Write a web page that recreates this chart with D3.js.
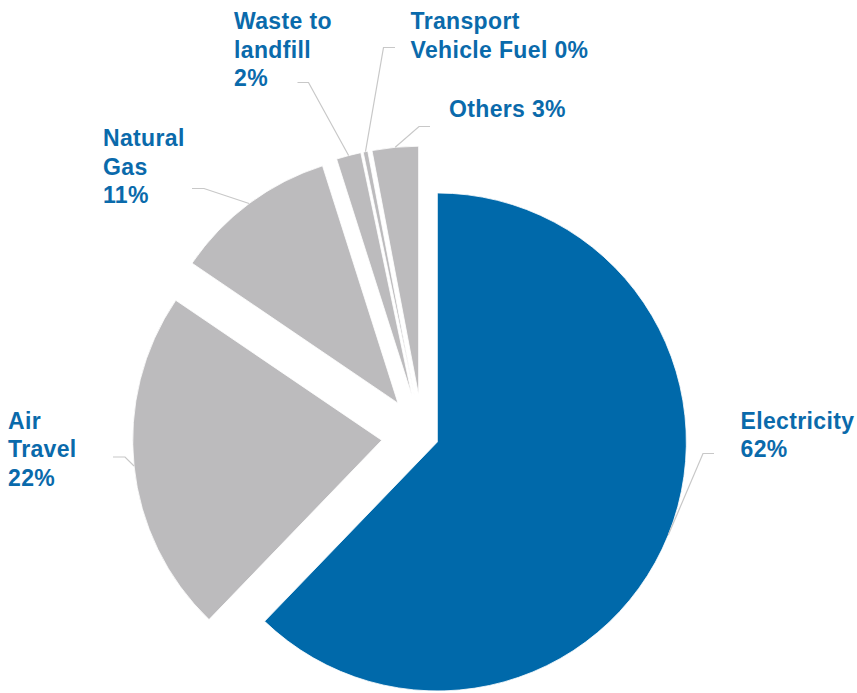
<!DOCTYPE html>
<html>
<head>
<meta charset="utf-8">
<script src="https://cdn.jsdelivr.net/npm/d3@7"></script>
<style>
  html, body { margin: 0; padding: 0; background: #fff; }
  svg { display: block; }
  .lbl { font-family: "Liberation Sans", Arial, Helvetica, sans-serif; font-weight: bold; font-size: 23px; letter-spacing: 0.35px; fill: #0a6aab; }
</style>
</head>
<body>
<svg id="chart" width="857" height="693"></svg>
<script>
// Emissions share by source (%)
const categories = ["Electricity", "Air Travel", "Natural Gas", "Waste to landfill", "Transport Vehicle Fuel", "Others"];
const shares = [62.2, 22.3, 10.6, 1.6, 0.3, 3.0];

// Label text lines per category; the rounded percentage is appended
// either as its own line or to the end of the last line.
const labelLines = [
  ["Electricity"],
  ["Air", "Travel"],
  ["Natural", "Gas"],
  ["Waste to", "landfill"],
  ["Transport", "Vehicle Fuel"],
  ["Others"]
];
const pctOnOwnLine = [true, true, true, true, false, false];

const W = 857, H = 693;
const center = [422.5, 436];
const radius = 249;
const explode = [16, 41, 41, 41, 41, 41];
const sliceColor = ["#0069aa", "#bcbbbd", "#bcbbbd", "#bcbbbd", "#bcbbbd", "#bcbbbd"];

// Label placement: text origin, elbow of the leader and end of its horizontal tail
const labelLayout = [
  { x: 740.5, y: 428.5, elbow: [703, 453.5], tail: [714, 453.5] },
  { x: 8,     y: 428.5, elbow: [125, 457],   tail: [113, 457] },
  { x: 103,   y: 146,   elbow: [204, 188.5], tail: [192, 188.5] },
  { x: 234,   y: 29,    elbow: [308.5, 82.5], tail: [297.5, 82.5] },
  { x: 410.5, y: 29,    elbow: [383.5, 47.5], tail: [395, 47.5] },
  { x: 449,   y: 117,   elbow: [419, 126.5], tail: [430, 126.5] }
];
const lineHeight = 28.5;

const svg = d3.select("#chart");
const pct = d3.format(".0f");

const pie = d3.pie().sort(null).value(d => d.value).startAngle(0).endAngle(2 * Math.PI);
const data = categories.map((c, i) => ({ name: c, value: shares[i], i }));
const arcs = pie(data);
const arc = d3.arc().innerRadius(0).outerRadius(radius);

// Unit vector from the pie centre towards angle a (0 = 12 o'clock, clockwise)
const dir = a => [Math.sin(a), -Math.cos(a)];

const slices = svg.append("g").attr("class", "slices");
arcs.forEach(a => {
  const mid = (a.startAngle + a.endAngle) / 2;
  const [ux, uy] = dir(mid);
  const d = explode[a.data.i];
  a.origin = [center[0] + ux * d, center[1] + uy * d];
  a.mid = mid;
  slices.append("path")
    .attr("transform", `translate(${a.origin[0]},${a.origin[1]})`)
    .attr("d", arc(a))
    .attr("fill", sliceColor[a.data.i])
    .attr("stroke", "#fff")
    .attr("stroke-width", 0.8);
});

// Leader lines from each slice's outer mid-point to its label
const leaders = svg.append("g").attr("class", "leaders");
arcs.forEach(a => {
  const L = labelLayout[a.data.i];
  const [ux, uy] = dir(a.mid);
  const start = [a.origin[0] + ux * radius, a.origin[1] + uy * radius];
  leaders.append("path")
    .attr("d", d3.line()([start, L.elbow, L.tail]))
    .attr("fill", "none")
    .attr("stroke", "#c8c8c8")
    .attr("stroke-width", 1.2);
});

// Labels
const labels = svg.append("g").attr("class", "labels");
arcs.forEach(a => {
  const i = a.data.i;
  const L = labelLayout[i];
  const p = pct(a.data.value) + "%";
  const lines = labelLines[i].slice();
  if (pctOnOwnLine[i]) lines.push(p);
  else lines[lines.length - 1] += " " + p;
  const t = labels.append("text").attr("class", "lbl").attr("x", L.x).attr("y", L.y);
  lines.forEach((ln, k) => {
    t.append("tspan").attr("x", L.x).attr("y", L.y + k * lineHeight).text(ln);
  });
});
</script>
</body>
</html>
